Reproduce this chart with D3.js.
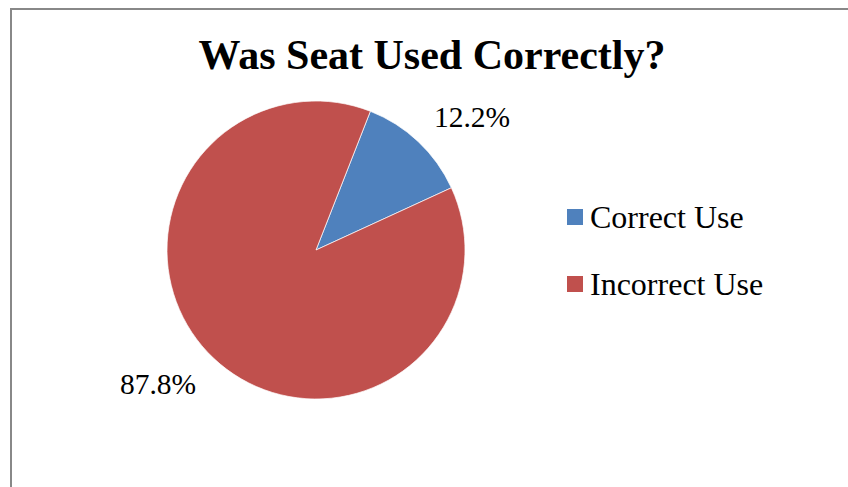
<html>
  <head>
    <style>
      body { margin: 0; background: #fff; }
    </style>
  </head>
  <body>
    <div id="vis"></div>
    <script src="https://d3js.org/d3.v7.min.js"></script>
    <script>
      const categories = ['Correct Use', 'Incorrect Use'],
            values = [12.2, 87.8],
            labels = ['12.2%', '87.8%'],
            colors = ['#4F81BD', '#C0504D']

      const width = 848, height = 487,
            cx = 316, cy = 250, r = 149,
            offset = 21.4 * Math.PI / 180

      const svg = d3.select('#vis').append('svg')
              .attr('width', width).attr('height', height)

      // chart frame (right and bottom edges run off the picture)
      svg.append('rect')
              .attr('x', 11).attr('y', 9)
              .attr('width', 900).attr('height', 600)
              .attr('fill', 'none').attr('stroke', '#888').attr('stroke-width', 2)

      svg.append('text')
              .text('Was Seat Used Correctly?')
              .attr('x', 432).attr('y', 69)
              .attr('text-anchor', 'middle')
              .attr('font-family', 'Liberation Serif, Times New Roman, serif')
              .attr('font-weight', 'bold')
              .attr('font-size', 42)

      const pie = d3.pie().sort(null)
              .startAngle(offset).endAngle(offset + 2 * Math.PI)
      const arc = d3.arc().innerRadius(0).outerRadius(r)
      const arcs = pie(values)

      const g = svg.append('g').attr('transform', 'translate(' + cx + ',' + cy + ')')
      g.selectAll('path')
              .data(arcs)
              .join('path')
              .attr('d', arc)
              .attr('fill', (d, i) => colors[i])
              .attr('stroke', '#fff')
              .attr('stroke-width', 0.7)

      // data labels outside the slices
      const labelPos = [[472, 127], [158, 394]]
      svg.selectAll('.lbl')
              .data(arcs)
              .join('text')
              .attr('class', 'lbl')
              .text((d, i) => labels[i])
              .attr('x', (d, i) => labelPos[i][0])
              .attr('y', (d, i) => labelPos[i][1])
              .attr('text-anchor', 'middle')
              .attr('font-family', 'Liberation Serif, Times New Roman, serif')
              .attr('font-size', 29.5)

      const legend = svg.selectAll('.leg')
              .data(categories)
              .join('g')
              .attr('class', 'leg')
              .attr('transform', (d, i) => 'translate(567,' + (209 + i * 67) + ')')
      legend.append('rect')
              .attr('width', 16).attr('height', 16)
              .attr('fill', (d, i) => colors[i])
      legend.append('text')
              .text(d => d)
              .attr('x', 23).attr('y', 19)
              .attr('font-family', 'Liberation Serif, Times New Roman, serif')
              .attr('font-size', 32)
    </script>
  </body>
</html>
